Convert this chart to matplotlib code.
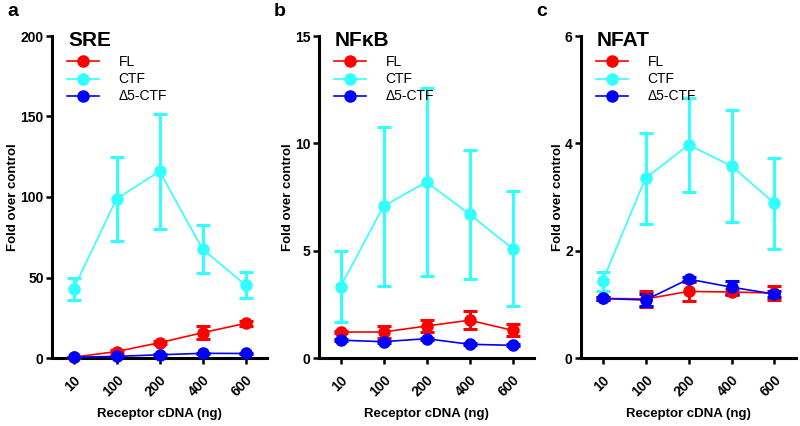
import matplotlib
matplotlib.use("Agg")
import matplotlib.pyplot as plt
from matplotlib.lines import Line2D

plt.rcParams['font.family'] = ['Liberation Sans', 'DejaVu Sans']

doses = ['10', '100', '200', '400', '600']
series_names = ['FL', 'CTF', '\u03945-CTF']
colors = {'FL': '#ff0000', 'CTF': '#33ffff', '\u03945-CTF': '#0000ff'}

# Panel a: SRE
sre_fl = [0.5, 4.0, 9.5, 15.7, 21.5]
sre_fl_err = [0.3, 0.8, 1.0, 4.0, 1.5]
sre_ctf = [42.9, 98.8, 116.0, 67.7, 45.3]
sre_ctf_err = [6.9, 26.3, 35.6, 14.6, 8.0]
sre_d5 = [0.5, 1.0, 2.0, 2.9, 2.8]
sre_d5_err = [0.2, 0.3, 0.4, 0.5, 0.4]

# Panel b: NFkB
nfkb_fl = [1.21, 1.21, 1.49, 1.76, 1.29]
nfkb_fl_err = [0.05, 0.3, 0.3, 0.42, 0.28]
nfkb_ctf = [3.32, 7.07, 8.20, 6.70, 5.10]
nfkb_ctf_err = [1.65, 3.70, 4.39, 3.00, 2.66]
nfkb_d5 = [0.83, 0.76, 0.90, 0.64, 0.59]
nfkb_d5_err = [0.05, 0.05, 0.05, 0.05, 0.05]

# Panel c: NFAT
nfat_fl = [1.11, 1.10, 1.24, 1.23, 1.21]
nfat_fl_err = [0.03, 0.15, 0.17, 0.05, 0.13]
nfat_ctf = [1.43, 3.35, 3.97, 3.58, 2.88]
nfat_ctf_err = [0.18, 0.85, 0.88, 1.05, 0.85]
nfat_d5 = [1.11, 1.08, 1.47, 1.32, 1.19]
nfat_d5_err = [0.03, 0.12, 0.04, 0.12, 0.05]

panels = [
    ('a', 'SRE', 200, [0, 50, 100, 150, 200],
     {'FL': (sre_fl, sre_fl_err), 'CTF': (sre_ctf, sre_ctf_err), '\u03945-CTF': (sre_d5, sre_d5_err)}),
    ('b', 'NF\u03baB', 15, [0, 5, 10, 15],
     {'FL': (nfkb_fl, nfkb_fl_err), 'CTF': (nfkb_ctf, nfkb_ctf_err), '\u03945-CTF': (nfkb_d5, nfkb_d5_err)}),
    ('c', 'NFAT', 6, [0, 2, 4, 6],
     {'FL': (nfat_fl, nfat_fl_err), 'CTF': (nfat_ctf, nfat_ctf_err), '\u03945-CTF': (nfat_d5, nfat_d5_err)}),
]

W, H = 800, 426
fig = plt.figure(figsize=(8, 4.26), dpi=100)
lefts = [52, 319, 581]
width = 215
top_px, bot_px = 36, 358
x = list(range(len(doses)))

for (lab, title, ymax, yticks, data), lpx in zip(panels, lefts):
    ax = fig.add_axes([lpx / W, (H - bot_px) / H, width / W, (bot_px - top_px) / H])
    for name in ['CTF', 'FL', '\u03945-CTF']:
        vals, errs = data[name]
        ax.errorbar(x, vals, yerr=errs, color=colors[name], lw=1.2, elinewidth=2.2,
                    capsize=5, capthick=2.2, marker='o', markersize=8, zorder=3,
                    clip_on=False)
    ax.set_xlim(-0.5, 4.5)
    ax.set_ylim(0, ymax)
    ax.set_yticks(yticks)
    ax.set_xticks(x)
    ax.set_xticklabels(doses, rotation=45, ha='right', rotation_mode='anchor')
    for s in ['top', 'right']:
        ax.spines[s].set_visible(False)
    for s in ['left', 'bottom']:
        ax.spines[s].set_linewidth(2.2)
    ax.tick_params(width=1.8, length=4, labelsize=10, pad=2)
    ax.tick_params(axis='x', pad=7)
    for t in ax.get_xticklabels() + ax.get_yticklabels():
        t.set_fontweight('bold')
    ax.set_xlabel('Receptor cDNA (ng)', fontsize=9.5, fontweight='bold', labelpad=6)
    ax.set_ylabel('Fold over control', fontsize=9.5, fontweight='bold', labelpad=1)
    ax.text(0.075, 1.015, title, transform=ax.transAxes, fontsize=15, fontweight='bold',
            va='top', ha='left')
    handles = [Line2D([], [], color=colors[n], marker='o', markersize=8, lw=1.2) for n in series_names]
    ax.legend(handles, series_names, loc='upper left', bbox_to_anchor=(0.07, 0.94),
              frameon=False, fontsize=10, handlelength=2.3, labelspacing=0.22, handletextpad=1.4,
              borderaxespad=0, borderpad=0)
    fig.text((lpx - 45) / W, 1 - 12 / H, lab, fontsize=14, fontweight='bold', va='center', ha='left')

fig.savefig('out.png', dpi=100)
